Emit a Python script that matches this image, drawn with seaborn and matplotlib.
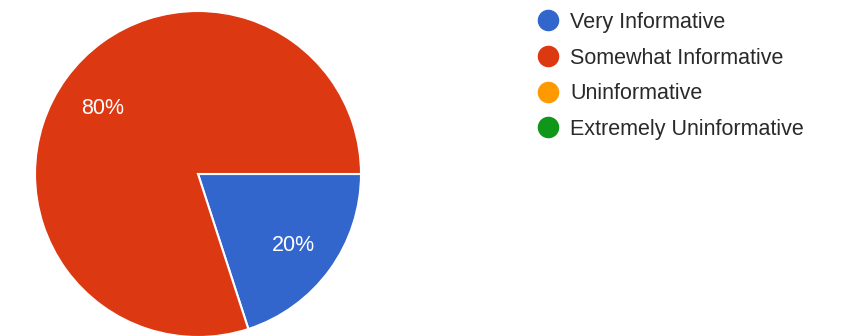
import matplotlib
matplotlib.use("Agg")
import matplotlib.pyplot as plt
import matplotlib.transforms as mtransforms
from matplotlib.lines import Line2D
import seaborn as sns

# Survey responses
categories = ["Very Informative", "Somewhat Informative", "Uninformative", "Extremely Uninformative"]
shares = [20, 80, 0, 0]
colors = ["#3366cc", "#dc3912", "#ff9900", "#109618"]

sns.set_theme(style="white")
plt.rcParams["font.family"] = ["Liberation Sans", "DejaVu Sans"]
palette = sns.color_palette(colors)

W, H = 844, 336
fig = plt.figure(figsize=(W / 100, H / 100), dpi=100)
fig.patch.set_facecolor("white")

# pie centred at (198, 174) px from top-left, radius 163 px
cx, cy, r = 198, 174, 163
ax = fig.add_axes([(cx - r) / W, (H - cy - r) / H, 2 * r / W, 2 * r / H])

vals = [v for v in shares if v > 0]
cols = [palette[i] for i, v in enumerate(shares) if v > 0]
wedges, texts, autotexts = ax.pie(
    vals,
    colors=cols,
    startangle=0,
    counterclock=False,
    autopct=lambda p: f"{p:.0f}%",
    pctdistance=0.72,
    wedgeprops=dict(edgecolor="white", linewidth=1.5),
    textprops=dict(color="white", fontsize=15.5),
)
ax.set_xlim(-1, 1)
ax.set_ylim(-1, 1)
ax.set_aspect("equal")
ax.axis("off")
# nudge percentage labels slightly downward
for t in autotexts:
    t.set_transform(mtransforms.offset_copy(ax.transData, fig=fig, x=0, y=-3, units="dots"))

handles = [
    Line2D([], [], marker="o", linestyle="", markersize=14.5,
           markerfacecolor=palette[i], markeredgecolor=palette[i])
    for i in range(len(categories))
]
leg = fig.legend(
    handles, categories,
    loc="upper left",
    bbox_to_anchor=(537 / W, 1 - 12 / H),
    frameon=False,
    fontsize=15.5,
    handlelength=1.0,
    handletextpad=0.55,
    labelspacing=0.68,
    borderaxespad=0,
    borderpad=0,
)
for t in leg.get_texts():
    t.set_color("#2a2a2a")

fig.savefig("out.png", dpi=100, facecolor="white")
